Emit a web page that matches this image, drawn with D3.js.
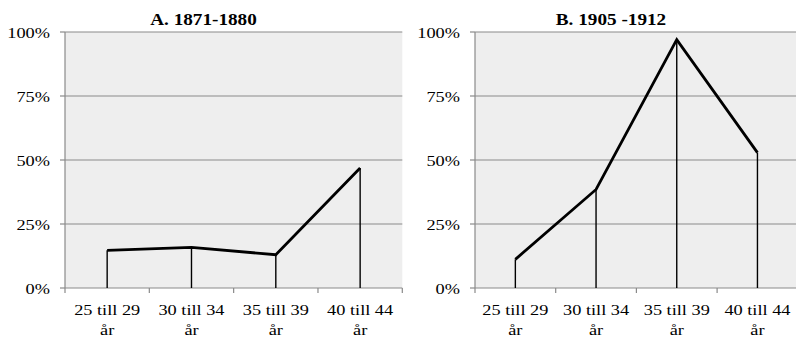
<!DOCTYPE html>
<html><head><meta charset="utf-8">
<script src="https://cdn.jsdelivr.net/npm/d3@7"></script>
<style>body{margin:0;background:#fff}svg{display:block}</style>
</head><body>
<svg id="c" width="796" height="339"></svg>
<script>
const categories = ["25 till 29 år","30 till 34 år","35 till 39 år","40 till 44 år"];
const titles = ["A. 1871-1880","B. 1905 -1912"];
const valuesA = [14.7, 15.9, 13.0, 46.9];
const valuesB = [11.2, 38.5, 97.0, 52.9];
const yTicks = [0,25,50,75,100];

const svg = d3.select("#c");
const panels = [
  {title: titles[0], values: valuesA, x0: 65, x1: 402.3, titleX: 203.5},
  {title: titles[1], values: valuesB, x0: 475, x1: 797.8, titleX: 611}
];
const yTop = 32, yBot = 288;
const SX = 1.22;

function stretchedText(g, x, y, txt, anchor, size, weight, sx){
  g.append("text")
    .attr("transform", `translate(${x},${y}) scale(${sx},1)`)
    .attr("text-anchor", anchor)
    .attr("font-family", "'Liberation Serif','Times New Roman',serif")
    .attr("font-size", size)
    .attr("font-weight", weight)
    .attr("fill", "#000")
    .text(txt);
}

panels.forEach(p => {
  const g = svg.append("g");
  const x = d3.scaleBand().domain(categories).range([p.x0, p.x1]).padding(0);
  const y = d3.scaleLinear().domain([0,100]).range([yBot, yTop]);

  g.append("rect").attr("x", p.x0).attr("y", yTop)
    .attr("width", p.x1 - p.x0).attr("height", yBot - yTop).attr("fill", "#eeeeee");

  // gridlines
  g.selectAll(".grid").data(yTicks.filter(t => t > 0)).join("line")
    .attr("x1", p.x0).attr("x2", p.x1)
    .attr("y1", d => y(d)).attr("y2", d => y(d))
    .attr("stroke", "#8a8a8a").attr("stroke-width", 1.2);

  // y axis line + ticks
  g.append("line").attr("x1", p.x0).attr("x2", p.x0).attr("y1", yTop).attr("y2", yBot)
    .attr("stroke", "#8a8a8a").attr("stroke-width", 1.2);
  g.selectAll(".yt").data(yTicks).join("line")
    .attr("x1", p.x0 - 5).attr("x2", p.x0)
    .attr("y1", d => y(d)).attr("y2", d => y(d))
    .attr("stroke", "#8a8a8a").attr("stroke-width", 1.2);
  yTicks.forEach(t => stretchedText(g, p.x0 - 15, y(t) + 5.5, t + "%", "end", 15, "normal", SX));

  // x axis
  g.append("line").attr("x1", p.x0).attr("x2", p.x1).attr("y1", yBot).attr("y2", yBot)
    .attr("stroke", "#8a8a8a").attr("stroke-width", 1.2);
  const edges = categories.map(c => x(c)).concat([p.x1]);
  g.selectAll(".xt").data(edges).join("line")
    .attr("x1", d => d).attr("x2", d => d).attr("y1", yBot).attr("y2", yBot + 5)
    .attr("stroke", "#8a8a8a").attr("stroke-width", 1.2);
  categories.forEach(c => {
    const cx = x(c) + x.bandwidth()/2;
    const parts = c.split(" ");
    stretchedText(g, cx, 315, parts.slice(0,3).join(" "), "middle", 15, "normal", SX);
    stretchedText(g, cx, 335, parts[3], "middle", 15, "normal", SX);
  });

  // drop lines
  g.selectAll(".drop").data(p.values).join("line")
    .attr("x1", (d,i) => x(categories[i]) + x.bandwidth()/2)
    .attr("x2", (d,i) => x(categories[i]) + x.bandwidth()/2)
    .attr("y1", d => y(d)).attr("y2", yBot)
    .attr("stroke", "#000").attr("stroke-width", 1.4);

  // line
  const line = d3.line()
    .x((d,i) => x(categories[i]) + x.bandwidth()/2)
    .y(d => y(d));
  g.append("path").datum(p.values).attr("d", line)
    .attr("fill", "none").attr("stroke", "#000").attr("stroke-width", 2.8)
    .attr("stroke-linejoin", "miter");

  stretchedText(g, p.titleX, 25, p.title, "middle", 17, "bold", 1.13);
});
</script>
</body></html>
